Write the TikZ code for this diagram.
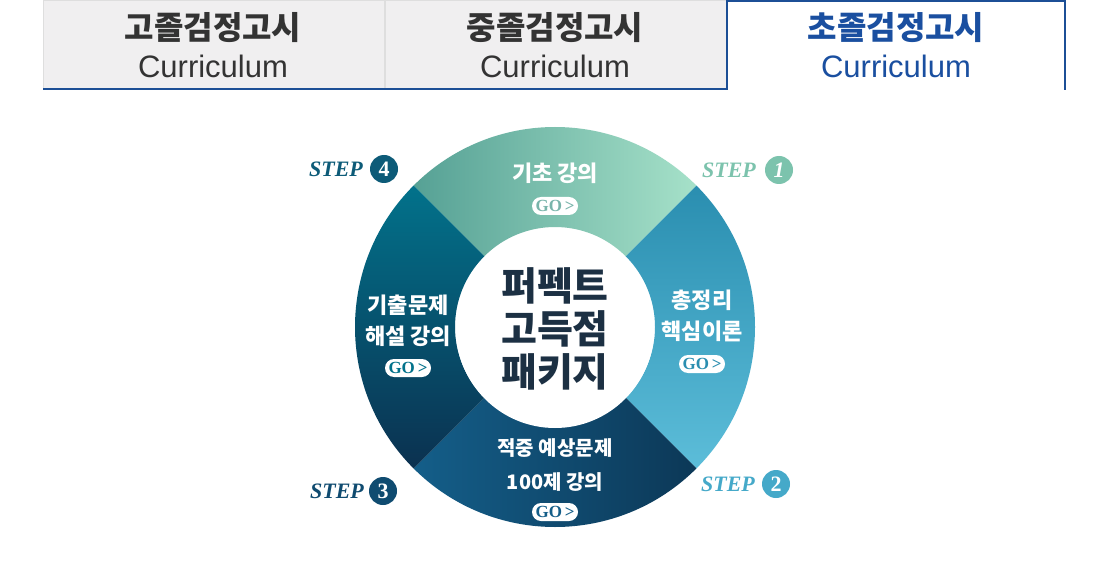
\documentclass[tikz,border=0pt]{standalone}
\usepackage{fontspec}
\setmainfont{Liberation Sans}
\newfontfamily\krfont{Noto Sans CJK KR}
\newfontfamily\serfont{Liberation Serif}
\usetikzlibrary{positioning}

\definecolor{tabgray}{HTML}{F0EFF0}
\definecolor{tabline}{HTML}{DEDEDE}
\definecolor{tabblue}{HTML}{1C4F96}
\definecolor{tabtext}{HTML}{333333}
\definecolor{seltext}{HTML}{1A4FA0}
\definecolor{mintA}{HTML}{56A195}
\definecolor{mintB}{HTML}{A6E1C9}
\definecolor{skyA}{HTML}{2A8EB0}
\definecolor{skyB}{HTML}{5CBDD9}
\definecolor{navyA}{HTML}{145E89}
\definecolor{navyB}{HTML}{0C3857}
\definecolor{tealA}{HTML}{02728B}
\definecolor{tealB}{HTML}{0B3150}
\definecolor{coretext}{HTML}{1C3043}
\definecolor{stepA}{HTML}{7CC3AD}
\definecolor{stepB}{HTML}{45A9C9}
\definecolor{stepC}{HTML}{0F4B70}
\definecolor{stepD}{HTML}{0D5B78}

\tikzset{
  tab/.style      = {draw=tabline, fill=tabgray},
  tabtitle/.style = {font=\krfont\bfseries\fontsize{32}{33}\selectfont, text=tabtext},
  tabsub/.style   = {font=\fontsize{31}{32}\selectfont, text=tabtext},
  steptext/.style = {font=\serfont\bfseries\itshape\fontsize{22}{24}\selectfont},
  stepnum/.style  = {circle, minimum size=28pt, inner sep=0pt, text=white, font=\serfont\bfseries\fontsize{22}{22}\selectfont},
  seglabel/.style = {text=white, align=center, font=\krfont\bfseries\fontsize{22}{31}\selectfont},
  gobtn/.style    = {fill=white, rounded corners=9pt, minimum width=46pt, minimum height=18pt, inner sep=0pt, font=\serfont\bfseries\fontsize{17}{17}\selectfont}
}

\begin{document}
\begin{tikzpicture}[x=1pt, y=-1pt]

\useasboundingbox[fill=white] (0,0) rectangle (1110,569);

% tabs
\draw[tab] (43,0) rectangle (384,89);
\draw[tab] (385,0) rectangle (726,89);
\draw[tabblue, line width=2pt] (43,89) -- (727,89);
\draw[tabblue, line width=2pt] (727,90) -- (727,1) -- (1065,1) -- (1065,90);

\node[tabtitle] (t1) at (213,28) {고졸검정고시};
\node[tabsub]   (c1) at (213,66) {Curriculum};
\node[tabtitle] (t2) at (555,28) {중졸검정고시};
\node[tabsub]   (c2) at (555,66) {Curriculum};
\node[tabtitle, text=seltext] (t3) at (896,28) {초졸검정고시};
\node[tabsub, text=seltext]   (c3) at (896,66) {Curriculum};

% ring
\begin{scope}[shift={(555,327)}, y=1pt]
\shade[left color=mintA, right color=mintB] (45:200) arc[start angle=45, end angle=135, radius=200] -- (135:100) arc[start angle=135, end angle=45, radius=100] -- cycle;
\shade[top color=skyA, bottom color=skyB] (-45:200) arc[start angle=-45, end angle=45, radius=200] -- (45:100) arc[start angle=45, end angle=-45, radius=100] -- cycle;
\shade[left color=navyA, right color=navyB] (-135:200) arc[start angle=-135, end angle=-45, radius=200] -- (-45:100) arc[start angle=-45, end angle=-135, radius=100] -- cycle;
\shade[top color=tealA, bottom color=tealB] (135:200) arc[start angle=135, end angle=225, radius=200] -- (225:100) arc[start angle=225, end angle=135, radius=100] -- cycle;
\end{scope}

\node[circle, fill=white, minimum size=198pt, inner sep=0pt, align=center, text=coretext,
      font=\krfont\bfseries\fontsize{39}{43}\selectfont] (core) at (555,329) {퍼펙트\\고득점\\패키지};

% segment labels
\node[seglabel] (s1) at (555,173) {기초 강의};
\node[gobtn, text=mintA!80!white] (g1) at (555,206) {GO\,>};
\node[seglabel] (s2) at (702,316) {총정리\\핵심이론};
\node[gobtn, text=skyA] (g2) at (702,364) {GO\,>};
\node[seglabel, font=\krfont\bfseries\fontsize{20}{34}\selectfont] (s3) at (555,465) {적중 예상문제\\100제 강의};
\node[gobtn, text=navyA] (g3) at (555,512) {GO\,>};
\node[seglabel] (s4) at (408,321) {기출문제\\해설 강의};
\node[gobtn, text=tealA] (g4) at (408,368) {GO\,>};

% steps
\node[steptext, text=stepA] (p1) at (729,170) {STEP};
\node[stepnum, fill=stepA] (n1) at (779,170) {\itshape 1};
\node[steptext, text=stepB] (p2) at (728,484) {STEP};
\node[stepnum, fill=stepB] (n2) at (776,484) {2};
\node[steptext, text=stepC] (p3) at (337,491) {STEP};
\node[stepnum, fill=stepC] (n3) at (383,491) {3};
\node[steptext, text=stepD] (p4) at (336,169) {STEP};
\node[stepnum, fill=stepD] (n4) at (384,169) {4};

\end{tikzpicture}
\end{document}
